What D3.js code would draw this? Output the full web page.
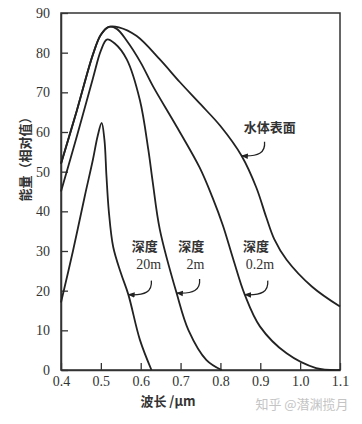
<!DOCTYPE html>
<html>
<head>
<meta charset="utf-8">
<script src="https://cdn.jsdelivr.net/npm/d3@7"></script>
<style>
body { margin:0; background:#fff; }
svg { display:block; }
</style>
</head>
<body>
<svg></svg>
<script>
// data: [wavelength um, relative energy]
var surface = [[0.4,52],[0.44,65.5],[0.48,79.5],[0.5,84.5],[0.52,86.5],[0.545,86.4],[0.59,84.2],[0.648,78.3],[0.698,72.6],[0.75,67],[0.8,61.5],[0.853,54],[0.89,46],[0.915,38.5],[0.935,33],[0.966,27.8],[1.03,21],[1.1,16]]
var depth02 = [[0.4,52],[0.44,65.5],[0.48,79.5],[0.5,84.5],[0.52,86.5],[0.54,86],[0.565,83],[0.6,77.5],[0.631,71.5],[0.69,61.4],[0.748,51],[0.78,43.5],[0.806,36.5],[0.832,28],[0.861,19],[0.899,11],[0.966,4.2],[1.04,0.5],[1.1,0]]
var depth2 = [[0.4,45],[0.44,59],[0.48,73.5],[0.5,80.5],[0.515,83.3],[0.535,82.3],[0.565,78.3],[0.598,68],[0.619,55.6],[0.63,47.5],[0.648,35.4],[0.69,19.4],[0.72,10],[0.765,2.5],[0.803,0]]
var depth20 = [[0.4,17],[0.43,30],[0.46,44],[0.48,53],[0.492,59],[0.502,62.3],[0.509,58],[0.514,49],[0.52,40],[0.531,31],[0.55,24.5],[0.569,19],[0.598,7.6],[0.627,0]]

var xTicks = [0.4,0.5,0.6,0.7,0.8,0.9,1.0,1.1]
var yTicks = [0,10,20,30,40,50,60,70,80,90]

// annotation text + where the arrow points
var labels = [
    {lines:["水体表面"], w:0.924, v:60, tipW:0.853, tipV:54},
    {lines:["深度","20m"], w:0.61, v:30, tipW:0.569, tipV:19},
    {lines:["深度","2m"], w:0.727, v:30, tipW:0.69, tipV:19.4},
    {lines:["深度","0.2m"], w:0.889, v:30, tipW:0.861, tipV:19}
]

var screen = {width:362,height:424}
var margins = {top:13, right:22, bottom:54, left:61}
var width = screen.width - margins.left - margins.right
var height = screen.height - margins.top - margins.bottom

var svg = d3.select("svg")
    .attr("width",screen.width)
    .attr("height",screen.height)

svg.append("rect")
    .attr("width",screen.width)
    .attr("height",screen.height)
    .attr("fill","#fff")

var defs = svg.append("defs")
defs.append("marker")
    .attr("id","head")
    .attr("viewBox","0 0 10 10")
    .attr("refX",9)
    .attr("refY",5)
    .attr("markerWidth",7)
    .attr("markerHeight",7)
    .attr("markerUnits","userSpaceOnUse")
    .attr("orient","auto")
    .append("path")
    .attr("d","M0,1 L10,5 L0,9 Z")
    .attr("fill","#222")

var graph = svg.append("g")
    .attr("transform","translate("+margins.left+","+margins.top+")")

var xScale = d3.scaleLinear()
    .domain([0.4,1.1])
    .range([0,width])
var yScale = d3.scaleLinear()
    .domain([0,90])
    .range([height,0])

// frame
graph.append("rect")
    .attr("width",width)
    .attr("height",height)
    .attr("fill","none")
    .attr("stroke","#333")
    .attr("stroke-width",1.5)

var xAxis = d3.axisBottom(xScale)
    .tickValues(xTicks)
    .tickSizeInner(-7)
    .tickSizeOuter(0)
    .tickPadding(6)
    .tickFormat(d3.format(".1f"))
var yAxis = d3.axisLeft(yScale)
    .tickValues(yTicks)
    .tickSizeInner(-7)
    .tickSizeOuter(0)
    .tickPadding(11)

var gx = graph.append("g")
    .attr("transform","translate(0,"+height+")")
    .call(xAxis)
var gy = graph.append("g")
    .call(yAxis)

graph.selectAll(".domain").attr("stroke","#333").attr("stroke-width",1.5)
graph.selectAll(".tick line").attr("stroke","#333").attr("stroke-width",1.3)
graph.selectAll(".tick text")
    .attr("fill","#333")
    .style("font-family","'Liberation Serif', serif")
    .style("font-size","14px")

var lineGenerator = d3.line()
    .x(function(d){return xScale(d[0])})
    .y(function(d){return yScale(d[1])})
    .curve(d3.curveCatmullRom.alpha(0.5))

graph.selectAll(".curve")
    .data([surface,depth02,depth2,depth20])
    .enter()
    .append("path")
    .attr("class","curve")
    .attr("d",lineGenerator)
    .attr("fill","none")
    .attr("stroke","#222")
    .attr("stroke-width",1.8)

// labels with curved arrows
var lab = graph.selectAll(".lab")
    .data(labels)
    .enter()
    .append("g")
    .attr("class","lab")

lab.each(function(d)
{
    var g = d3.select(this)
    var x = xScale(d.w), y = yScale(d.v)
    d.lines.forEach(function(t,i)
    {
        var cjk = /[\u4e00-\u9fff]/.test(t)
        g.append("text")
            .attr("x", cjk ? x : x+4)
            .attr("y", y + i*18)
            .attr("text-anchor","middle")
            .attr("fill","#333")
            .style("font-family", cjk ? "'Noto Sans CJK SC', sans-serif" : "'Liberation Serif', serif")
            .style("font-weight", cjk ? "700" : "400")
            .style("font-size", cjk ? "13px" : "14px")
            .text(t)
    })
    var tx = xScale(d.tipW), ty = yScale(d.tipV)
    var sx = tx+23, sy = ty-14
    g.append("path")
        .attr("d","M"+sx+","+sy+" C"+(sx+1)+","+(sy+11)+" "+(sx-6)+","+(ty+1)+" "+tx+","+ty)
        .attr("fill","none")
        .attr("stroke","#222")
        .attr("stroke-width",1.3)
        .attr("marker-end","url(#head)")
})

// axis titles
svg.append("text")
    .attr("transform","translate(30,"+156+") rotate(-90)")
    .attr("text-anchor","middle")
    .attr("fill","#333")
    .style("font-family","'Noto Sans CJK SC', sans-serif")
    .style("font-weight","700")
    .style("font-size","13px")
    .text("能量（相对值）")

svg.append("text")
    .attr("x",168)
    .attr("y",406)
    .attr("text-anchor","middle")
    .attr("fill","#333")
    .style("font-family","'Noto Sans CJK SC', sans-serif")
    .style("font-weight","700")
    .style("font-size","13px")
    .text("波长 /μm")

svg.append("text")
    .attr("x",302)
    .attr("y",409)
    .attr("text-anchor","middle")
    .attr("fill","#c4c4c4")
    .style("font-family","'Noto Sans CJK SC', sans-serif")
    .style("font-size","13px")
    .text("知乎 @潜渊揽月")
</script>
</body>
</html>
